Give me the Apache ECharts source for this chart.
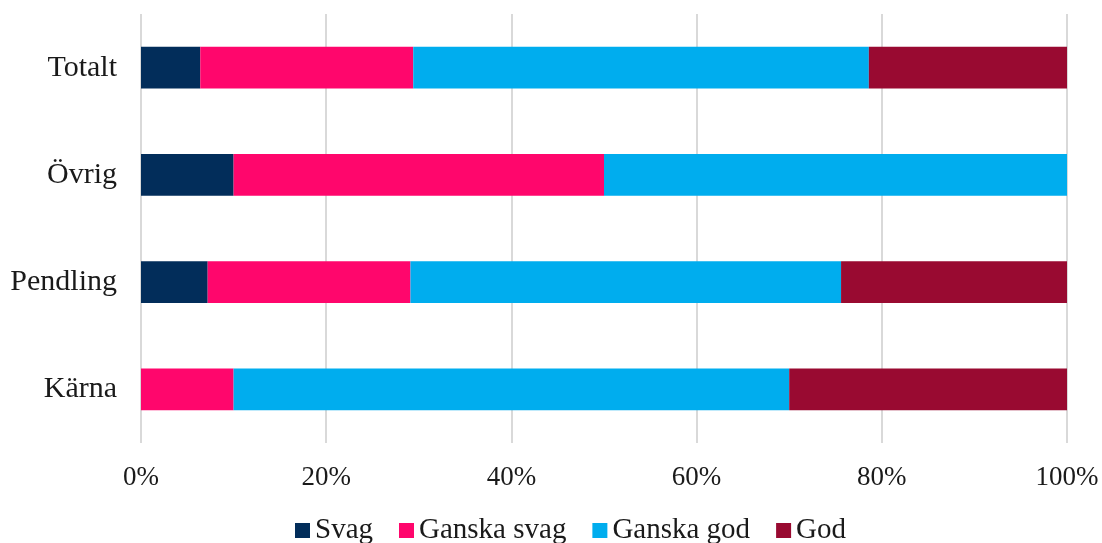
<!DOCTYPE html>
<html>
<head>
<meta charset="utf-8">
<script src="https://cdn.jsdelivr.net/npm/echarts@6/dist/echarts.min.js"></script>
<style>
  html, body { margin: 0; padding: 0; background: #fff; }
  #chart { width: 1102px; height: 543px; }
</style>
</head>
<body>
<div id="chart"></div>
<script>
  // categories bottom -> top
  const categories = ['Kärna', 'Pendling', 'Övrig', 'Totalt'];
  const svag = [0, 7.2, 10, 6.4];
  const ganskaSvag = [10, 21.9, 40, 23.0];
  const ganskaGod = [60, 46.5, 50, 49.2];
  const god = [30, 24.4, 0, 21.4];
  const xTicks = [0, 20, 40, 60, 80, 100];

  const font = '"Liberation Serif", "DejaVu Serif", serif';
  const colors = ['#022d5a', '#ff066c', '#00adee', '#990a31'];

  let myChart = echarts.init(document.getElementById('chart'));
  let option = {
    animation: false,
    color: colors,
    grid: { left: 141, right: 35, top: 14, bottom: 100 },
    legend: {
      left: 290,
      top: 511,
      itemWidth: 15,
      itemHeight: 15,
      itemGap: 26,
      icon: 'rect',
      textStyle: { fontFamily: font, fontSize: 29, color: '#1a1a1a', padding: [0, 0, 0, 0] },
      data: ['Svag', 'Ganska svag', 'Ganska god', 'God']
    },
    xAxis: {
      type: 'value',
      min: xTicks[0],
      max: xTicks[xTicks.length - 1],
      interval: 20,
      axisLine: { show: false },
      axisTick: { show: false },
      axisLabel: {
        formatter: '{value}%',
        fontFamily: font,
        fontSize: 27,
        color: '#1a1a1a',
        margin: 21
      },
      splitLine: { show: true, lineStyle: { color: '#d9d9d9', width: 2 } }
    },
    yAxis: {
      type: 'category',
      data: categories,
      axisLine: { show: false },
      axisTick: { show: false },
      axisLabel: { fontFamily: font, fontSize: 30, color: '#1a1a1a', margin: 24 }
    },
    series: [
      { name: 'Svag', type: 'bar', stack: 'a', barWidth: '39%', data: svag },
      { name: 'Ganska svag', type: 'bar', stack: 'a', data: ganskaSvag },
      { name: 'Ganska god', type: 'bar', stack: 'a', data: ganskaGod },
      { name: 'God', type: 'bar', stack: 'a', data: god }
    ]
  };
  myChart.setOption(option);
</script>
</body>
</html>
